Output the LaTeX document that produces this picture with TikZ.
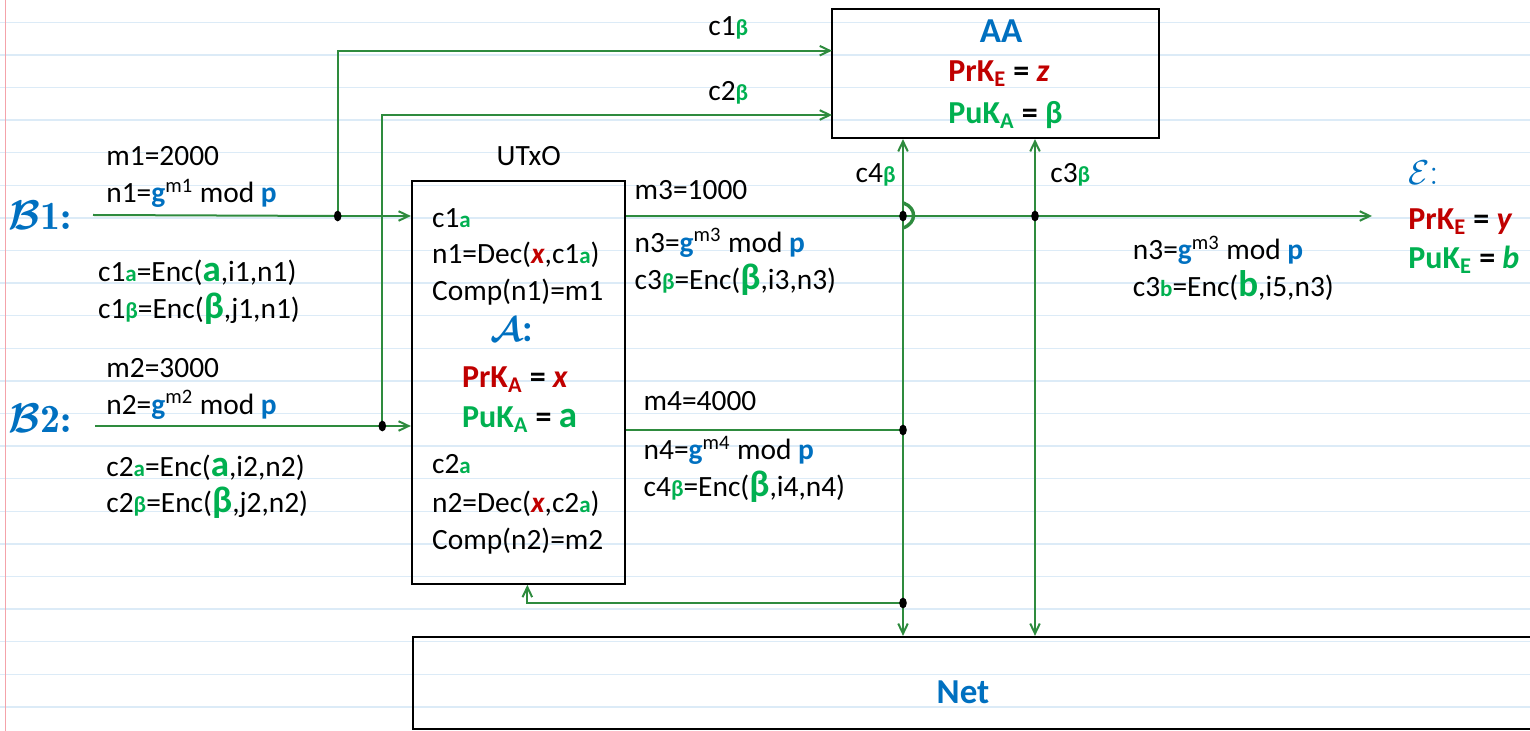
\documentclass[tikz,border=0pt]{standalone}
\usepackage{amsmath,bm}
\usepackage{fontspec}
\setmainfont{Carlito}
\usepackage{tikz}
\usetikzlibrary{arrows.meta}
\definecolor{keyblue}{HTML}{0070C0}
\definecolor{keygreen}{HTML}{00B050}
\definecolor{keyred}{HTML}{C00000}
\definecolor{wiregreen}{HTML}{2E8B3E}
\definecolor{ruled}{HTML}{DCEBF7}
\definecolor{margin}{HTML}{F4A3AA}
\newcommand\gsm[1]{{\color{keygreen}\bfseries\fontsize{11.5}{12}\selectfont #1}}
\newcommand\gbig[1]{{\color{keygreen}\bfseries\fontsize{18.5}{18}\selectfont #1}}
\newcommand\bbf[1]{{\color{keyblue}\bfseries #1}}
\newcommand\rit[1]{{\color{keyred}\bfseries\itshape #1}}
\newcommand\keyln[4]{{\color{#1}#2\textsubscript{#3}} = {\color{#1}#4}}

\begin{document}
\begin{tikzpicture}[x=0.5pt, y=-0.5pt, font=\fontsize{14.7}{18.35}\selectfont,
  >={Straight Barb[length=5pt,width=4.8pt]},
  wire/.style={draw=wiregreen, line width=1pt},
  box/.style={draw, line width=0.85pt, inner sep=0pt},
  txt/.style={anchor=base west, inner sep=0pt, align=left},
  keys/.style={txt, font=\fontsize{16}{19.6}\selectfont\bfseries},
  party/.style={txt, text=keyblue, font=\fontfamily{lmr}\fontsize{20}{22}\selectfont\bfseries}]
\useasboundingbox (0,0) rectangle (1530,731);
% ruled paper
\foreach \k in {0,...,21}
  \draw[ruled, line width=0.7pt] (0,{22.3+32.6*\k}) -- (1530,{22.3+32.6*\k});
\draw[margin, line width=0.7pt] (5.7,0) -- (5.7,731);

% boxes (multi-line texts sit on their last baseline)
\node[box, minimum width=163.25pt, minimum height=64.65pt] (aa) at (995.5,73.6) {};
\node[box, minimum width=106.65pt, minimum height=201.5pt] (utxo) at (518.35,382.5) {};
\node[box, minimum width=563.5pt, minimum height=46.3pt] (net) at (976.5,683) {};
\node[anchor=base, text=keyblue, font=\fontsize{17.5}{20}\selectfont\bfseries] (nettitle) at (963,703.3) {Net};
\node[anchor=base, text=keyblue, font=\fontsize{17.5}{20}\selectfont\bfseries] (aatitle) at (1001,42.7) {AA};
\node[keys] (aakeys) at (948,123.3) {\keyln{keyred}{PrK}{E}{\itshape z}\\[1.2pt]\keyln{keygreen}{PuK}{A}{β}};
\node[anchor=base, inner sep=0pt] (utxolbl) at (528.7,165.7) {UTxO};

% senders
\node[party] (b1) at (8,230) {$\bm{\mathcal{B}}$1:};
\node[party] (b2) at (8,433) {$\bm{\mathcal{B}}$2:};
\node[txt] (b1msg) at (106,202.7) {m1=2000\\n1=\bbf{g}\textsuperscript{m1} mod \bbf{p}};
\node[txt] (b1enc) at (97.7,318.3) {c1\gsm{a}=Enc(\gbig{a},i1,n1)\\c1\gsm{β}=Enc(\gbig{β},j1,n1)};
\node[txt] (b2msg) at (106,414.3) {m2=3000\\n2=\bbf{g}\textsuperscript{m2} mod \bbf{p}};
\node[txt] (b2enc) at (106,512.7) {c2\gsm{a}=Enc(\gbig{a},i2,n2)\\c2\gsm{β}=Enc(\gbig{β},j2,n2)};

% inside the UTxO
\node[txt] (utxoin1) at (431.7,300.7) {c1\gsm{a}\\n1=Dec(\rit{x},c1\gsm{a})\\Comp(n1)=m1};
\node[anchor=base, inner sep=0pt, text=keyblue, font=\fontsize{19}{20}\selectfont] (alice) at (511.7,341.7) {$\bm{\mathcal{A}}$\textbf{:}};
\node[keys] (alicekeys) at (461.7,427.3) {\keyln{keyred}{PrK}{A}{\itshape x}\\[0.4pt]\keyln{keygreen}{PuK}{A}{\gbig{a}}};
\node[txt] (utxoin2) at (431.7,549.3) {c2\gsm{a}\\[1pt]n2=Dec(\rit{x},c2\gsm{a})\\Comp(n2)=m2};

% outputs
\node[txt] (m3msg) at (634.3,200) {m3=1000};
\node[txt] (m3enc) at (634.3,290) {n3=\bbf{g}\textsuperscript{m3} mod \bbf{p}\\[0.5pt]c3\gsm{β}=Enc(\gbig{β},i3,n3)};
\node[txt] (m4msg) at (643.3,410.7) {m4=4000};
\node[txt] (m4enc) at (643.3,496.7) {n4=\bbf{g}\textsuperscript{m4} mod \bbf{p}\\c4\gsm{β}=Enc(\gbig{β},i4,n4)};
\node[txt] (c1lbl) at (708,35.7) {c1\gsm{β}};
\node[txt] (c2lbl) at (708,100.7) {c2\gsm{β}};
\node[txt] (c4lbl) at (855.3,182.7) {c4\gsm{β}};
\node[txt] (c3lbl) at (1050,182.7) {c3\gsm{β}};
\node[txt] (eveenc) at (1132.5,296.7) {n3=\bbf{g}\textsuperscript{m3} mod \bbf{p}\\c3\gsm{b}=Enc(\gbig{b},i5,n3)};
\node[txt, text=keyblue, font=\fontfamily{lmr}\fontsize{19}{20}\selectfont] (eve) at (1408,185) {$\mathcal{E}$:};
\node[keys] (evekeys) at (1408,268.3) {\keyln{keyred}{PrK}{E}{\itshape y}\\\keyln{keygreen}{PuK}{E}{\itshape b}};

% wires
\coordinate (b1start) at (93,215);
\coordinate (b1dot) at (337.7,216);
\coordinate (b2start) at (95,426);
\coordinate (b2dot) at (382.3,426);
\coordinate (c1in) at (832,50.7);
\coordinate (c2in) at (832,115);
\coordinate (m3dot) at (903,216);
\coordinate (c3dot) at (1035,216);
\coordinate (m3end) at (1372,216);
\coordinate (m4dot) at (903,430);
\coordinate (fbdot) at (903,603);
\draw[wire] (b1start) -- (b1dot);
\draw[wire,->] (b1dot) -- (utxo.west |- b1dot);
\draw[wire,->] (b1dot) |- (c1in);
\draw[wire] (b2start) -- (b2dot);
\draw[wire,->] (b2dot) -- (utxo.west |- b2dot);
\draw[wire,->] (b2dot) |- (c2in);
\draw[wire,->] (utxo.east |- m3dot) -- (m3end);
\draw[wire, line width=1.7pt] (903.5,203) .. controls (917,208) and (917,223) .. (903,228);
\draw[wire] (utxo.east |- m4dot) -- (m4dot);
\draw[wire,->] (m4dot) -- (aa.south -| m4dot);
\draw[wire,->] (m4dot) -- (net.north -| m4dot);
\draw[wire,->] (fbdot) -| ([xshift=4.5pt]utxo.south);
\draw[wire,->] (c3dot) -- (aa.south -| c3dot);
\draw[wire,->] (c3dot) -- (net.north -| c3dot);
\foreach \p in {b1dot,b2dot,m3dot,c3dot,m4dot,fbdot}
  \fill (\p) ellipse (1.9pt and 2.7pt);
\end{tikzpicture}
\end{document}
